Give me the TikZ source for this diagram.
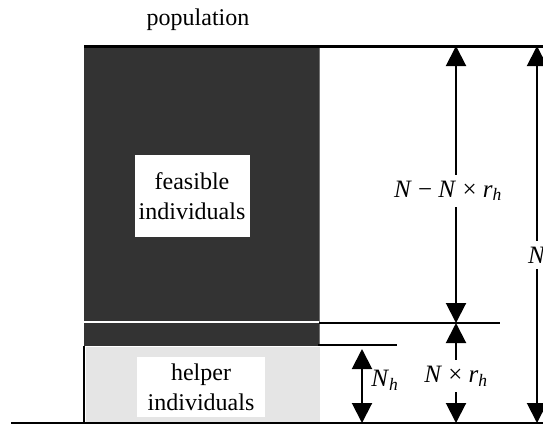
\documentclass[tikz,border=0pt]{standalone}
\usepackage{fontspec}
\setmainfont{Liberation Serif}
\usetikzlibrary{arrows.meta}
\newcommand{\var}[1]{\textit{#1}}
\begin{document}
\begin{tikzpicture}[x=1pt, y=-1pt, font=\fontsize{24}{30}\selectfont,
  dim/.style={line width=2pt, {Triangle[width=20pt,length=20pt]}-{Triangle[width=20pt,length=20pt]}},
  rule/.style={line width=2pt},
  lbl/.style={fill=white, inner xsep=2pt, inner ysep=6pt, font=\fontsize{25}{30}\selectfont},
  cellbox/.style={fill=white, align=center, inner sep=0pt}]
\useasboundingbox (0,0) rectangle (543,424);
% population blocks
\fill[black!80] (84,47) rectangle (319,346);
\draw[black!55, line width=1pt] (319,47) -- (319,346);
\fill[black!10] (86,347) rectangle (320,423);
\draw[white, line width=2pt] (84,322) -- (319,322);
% rules
\draw[line width=3pt] (84,46) -- (543,46);
\draw[rule] (319,323) -- (500,323);
\draw[rule] (318,345) -- (397,345);
\draw[rule] (84,346) -- (84,423);
\draw[rule] (11,423) -- (543,423);
% labels
\node (pop) at (198,20) {population};
\node[cellbox, minimum width=115pt, minimum height=82pt] (feas) at (192,196) {feasible\\individuals};
\node[cellbox, minimum width=128pt, minimum height=60pt] (help) at (201,387) {helper\\individuals};
% dimension arrows
\coordinate (t1) at (456,46);
\coordinate (m1) at (456,323);
\coordinate (b1) at (456,423);
\coordinate (t2) at (537,46);
\coordinate (b2) at (537,423);
\coordinate (t3) at (362,349);
\coordinate (b3) at (362,423);
\draw[dim] (t1) -- (m1) node[lbl, pos=0.523, xshift=-8pt] (rest) {\var{N} − \var{N} × \var{r}\textsubscript{\var{h}}};
\draw[dim] (m1) -- (b1) node[lbl, pos=0.53] (share) {\var{N} × \var{r}\textsubscript{\var{h}}};
\draw[dim] (t2) -- (b2) node[lbl, pos=0.554] (total) {\var{N}};
\draw[dim] (t3) -- (b3) node[right, pos=0.42, xshift=5pt, font=\fontsize{25}{30}\selectfont] (nh) {\var{N}\textsubscript{\var{h}}};
\end{tikzpicture}
\end{document}
